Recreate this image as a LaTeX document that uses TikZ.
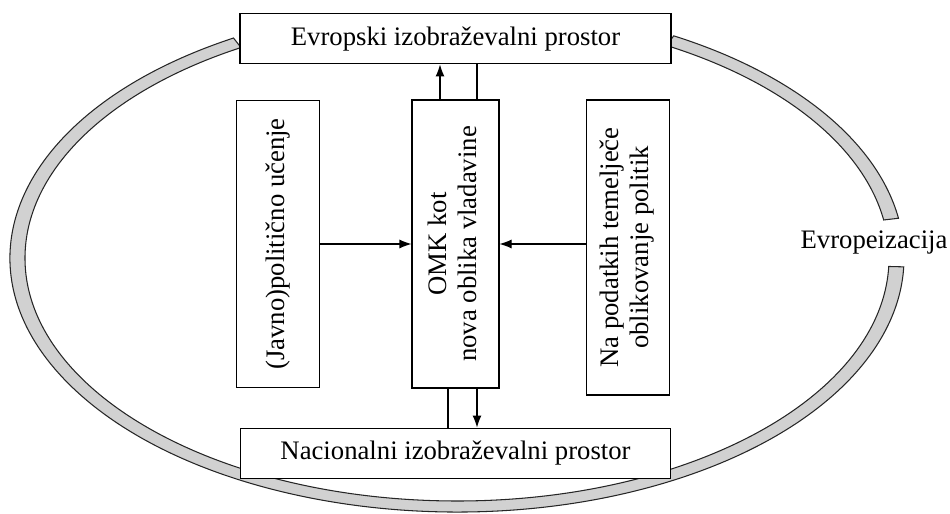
\documentclass[tikz,border=0pt]{standalone}
\usepackage{fontspec}
\setmainfont{Liberation Serif}
\usepackage{graphicx}
\usetikzlibrary{calc}
\usetikzlibrary{positioning}
\usetikzlibrary{arrows.meta}
\tikzset{
  box/.style={draw, fill=white, line width=0.6pt, align=center, inner sep=0pt, font=\fontsize{15.2}{17}\selectfont},
  band/.style={draw=black!85, fill=black!18, line width=0.6pt},
  conn/.style={line width=0.6pt}
}

\begin{document}
\begin{tikzpicture}[>={Latex[length=2.4mm, width=1.8mm]}]
  \useasboundingbox (0,0) rectangle (19,10.28);
  \coordinate (ctr) at (9.14,5.12);

  % ring round the whole thing
  \draw[band] ($(ctr)+(120:8.94 and 5.08)$) arc[start angle=120, end angle=358, x radius=8.94, y radius=5.08]
    -- ($(ctr)+(358:8.64 and 4.86)$) arc[start angle=358, end angle=120, x radius=8.64, y radius=4.86] -- cycle;
  \draw[band] ($(ctr)+(9:8.94 and 5.08)$) arc[start angle=9, end angle=61, x radius=8.94, y radius=5.08]
    -- ($(ctr)+(61:8.64 and 4.86)$) arc[start angle=61, end angle=9, x radius=8.64, y radius=4.86] -- cycle;

  \node[box, minimum width=1.74cm, minimum height=5.76cm] (omk) at (9.11,5.40) {\rotatebox{90}{\begin{tabular}{@{}c@{}}OMK kot\\nova oblika vladavine\end{tabular}}};
  \node[box, minimum width=1.66cm, minimum height=5.74cm, left=1.82cm of omk] (ucenje) {\rotatebox{90}{(Javno)politično učenje}};
  \node[box, minimum width=1.66cm, minimum height=5.9cm, right=1.72cm of omk.north east, anchor=north west] (podatki) {\rotatebox{90}{\begin{tabular}{@{}c@{}}Na podatkih temelječe\\oblikovanje politik\end{tabular}}};

  \node[box, minimum width=8.62cm, minimum height=1cm, above=0.7cm of omk] (evrpr) {Evropski izobraževalni prostor};
  \node[box, minimum width=8.6cm, minimum height=1cm, below=0.78cm of omk] (nacpr) {Nacionalni izobraževalni prostor};

  \node[font=\fontsize{15.2}{17}\selectfont] (evrop) at (17.48,5.42) {Evropeizacija};

  \draw[conn, ->] (ucenje.east) -- (ucenje.east -| omk.west);
  \draw[conn, ->] (podatki.west |- omk) -- (omk.east);

  \draw[conn, ->] ([xshift=-0.31cm]omk.north) -- ([xshift=-0.31cm]omk.north |- evrpr.south);
  \draw[conn] ([xshift=0.43cm]omk.north) -- ([xshift=0.43cm]omk.north |- evrpr.south);
  \draw[conn] ([xshift=-0.15cm]omk.south) -- ([xshift=-0.15cm]omk.south |- nacpr.north);
  \draw[conn, ->] ([xshift=0.43cm]omk.south) -- ([xshift=0.43cm]omk.south |- nacpr.north);

\end{tikzpicture}
\end{document}
